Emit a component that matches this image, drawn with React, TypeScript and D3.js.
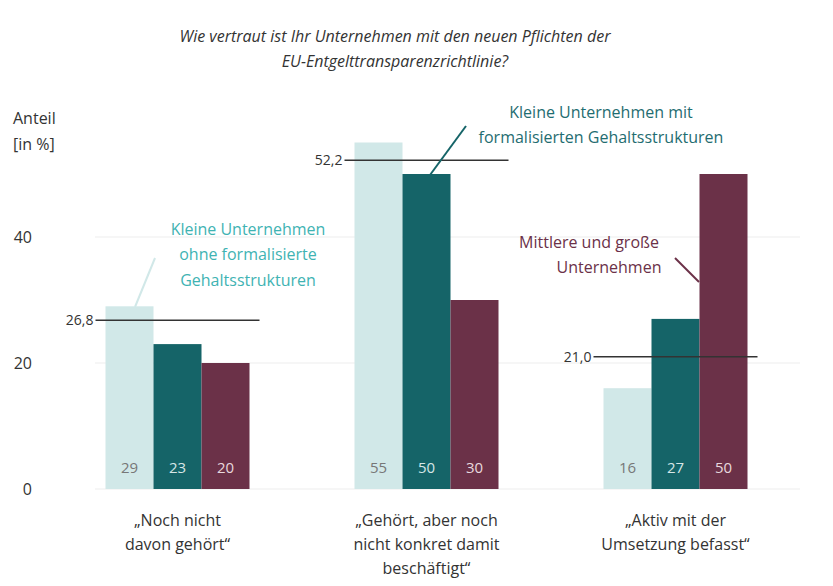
import React from "react";
import * as d3 from "d3";

const categories = ["„Noch nicht|davon gehört“", "„Gehört, aber noch|nicht konkret damit|beschäftigt“", "„Aktiv mit  der|Umsetzung befasst“"];
const seriesNames = ["Kleine Unternehmen ohne formalisierte Gehaltsstrukturen", "Kleine Unternehmen mit formalisierten Gehaltsstrukturen", "Mittlere und große Unternehmen"];
const small = [29, 55, 16];
const smallFormal = [23, 50, 27];
const medLarge = [20, 30, 50];
const refValues = [26.8, 52.2, 21.0];
const refLabels = ["26,8", "52,2", "21,0"];
const yTicks = [0, 20, 40];
const colors = ["#d1e8e8", "#156468", "#6b3148"];
const labelColors = ["#777", "#d6e6e6", "#e8d8de"];

export default function App() {
  const W = 833, H = 586;
  const y = d3.scaleLinear().domain([0, 40]).range([489, 237]);
  const x0 = d3.scaleBand().domain(categories).range([53, 800]).paddingInner(0).paddingOuter(0);
  const x1 = d3.scaleBand().domain(["0", "1", "2"]).range([0, 144]);
  const series = [small, smallFormal, medLarge];
  const font = "'Open Sans', 'Noto Sans', sans-serif";
  const gx = (i: number) => x0(categories[i])! + x0.bandwidth() / 2 - 72;
  return (
    <svg width={W} height={H} style={{ position: "absolute", left: 0, top: 0, fontFamily: font }}>
      <rect width={W} height={H} fill="#fff" />
      <text x={395} y={42} textAnchor="middle" fontSize={16} fontStyle="italic" fill="#333">Wie vertraut ist Ihr Unternehmen mit den neuen Pflichten der</text>
      <text x={395} y={67} textAnchor="middle" fontSize={16} fontStyle="italic" fill="#333">EU-Entgelttransparenzrichtlinie?</text>
      <text x={13} y={124} fontSize={16} fill="#333">Anteil</text>
      <text x={13} y={150} fontSize={16} fill="#333">[in %]</text>
      {yTicks.map(t => (
        <g key={t}>
          <line x1={95} x2={800} y1={y(t)} y2={y(t)} stroke="#eeeeee" strokeWidth={1.2} />
          <text x={32} y={y(t) + 6} textAnchor="end" fontSize={16} fill="#333">{t}</text>
        </g>
      ))}
      {categories.map((c, i) => (
        <g key={c}>
          {series.map((s, j) => (
            <g key={j}>
              <rect x={gx(i) + x1(String(j))!} y={y(s[i])} width={x1.bandwidth()} height={y(0) - y(s[i])} fill={colors[j]} />
              <text x={gx(i) + x1(String(j))! + x1.bandwidth() / 2} y={473} textAnchor="middle" fontSize={15} fill={labelColors[j]}>{s[i]}</text>
            </g>
          ))}
          <line x1={gx(i) - 10} x2={gx(i) + 154} y1={y(refValues[i])} y2={y(refValues[i])} stroke="#333" strokeWidth={1.5} />
          <text x={gx(i) - 12} y={y(refValues[i]) + 5} textAnchor="end" fontSize={14} fill="#333">{refLabels[i]}</text>
          {c.split("|").map((l, k) => (
            <text key={k} x={gx(i) + 72} y={526 + k * 24} textAnchor="middle" fontSize={16} fill="#333">{l}</text>
          ))}
        </g>
      ))}
      <text x={248} y={235} textAnchor="middle" fontSize={16} fill="#3fb3b3">Kleine Unternehmen</text>
      <text x={248} y={260} textAnchor="middle" fontSize={16} fill="#3fb3b3">ohne formalisierte</text>
      <text x={248} y={286} textAnchor="middle" fontSize={16} fill="#3fb3b3">Gehaltsstrukturen</text>
      <line x1={155} y1={258} x2={135} y2={307} stroke="#d1e8e8" strokeWidth={2} />
      <text x={601} y={118} textAnchor="middle" fontSize={16} fill="#1f6d71">Kleine Unternehmen mit</text>
      <text x={601} y={143} textAnchor="middle" fontSize={16} fill="#1f6d71">formalisierten Gehaltsstrukturen</text>
      <line x1={466} y1={126} x2={430} y2={175} stroke="#156468" strokeWidth={2} />
      <text x={589} y={248} textAnchor="middle" fontSize={16} fill="#6b3148">Mittlere und große</text>
      <text x={609} y={273} textAnchor="middle" fontSize={16} fill="#6b3148">Unternehmen</text>
      <line x1={675} y1={258} x2={699} y2={282} stroke="#6b3148" strokeWidth={2} />
    </svg>
  );
}
